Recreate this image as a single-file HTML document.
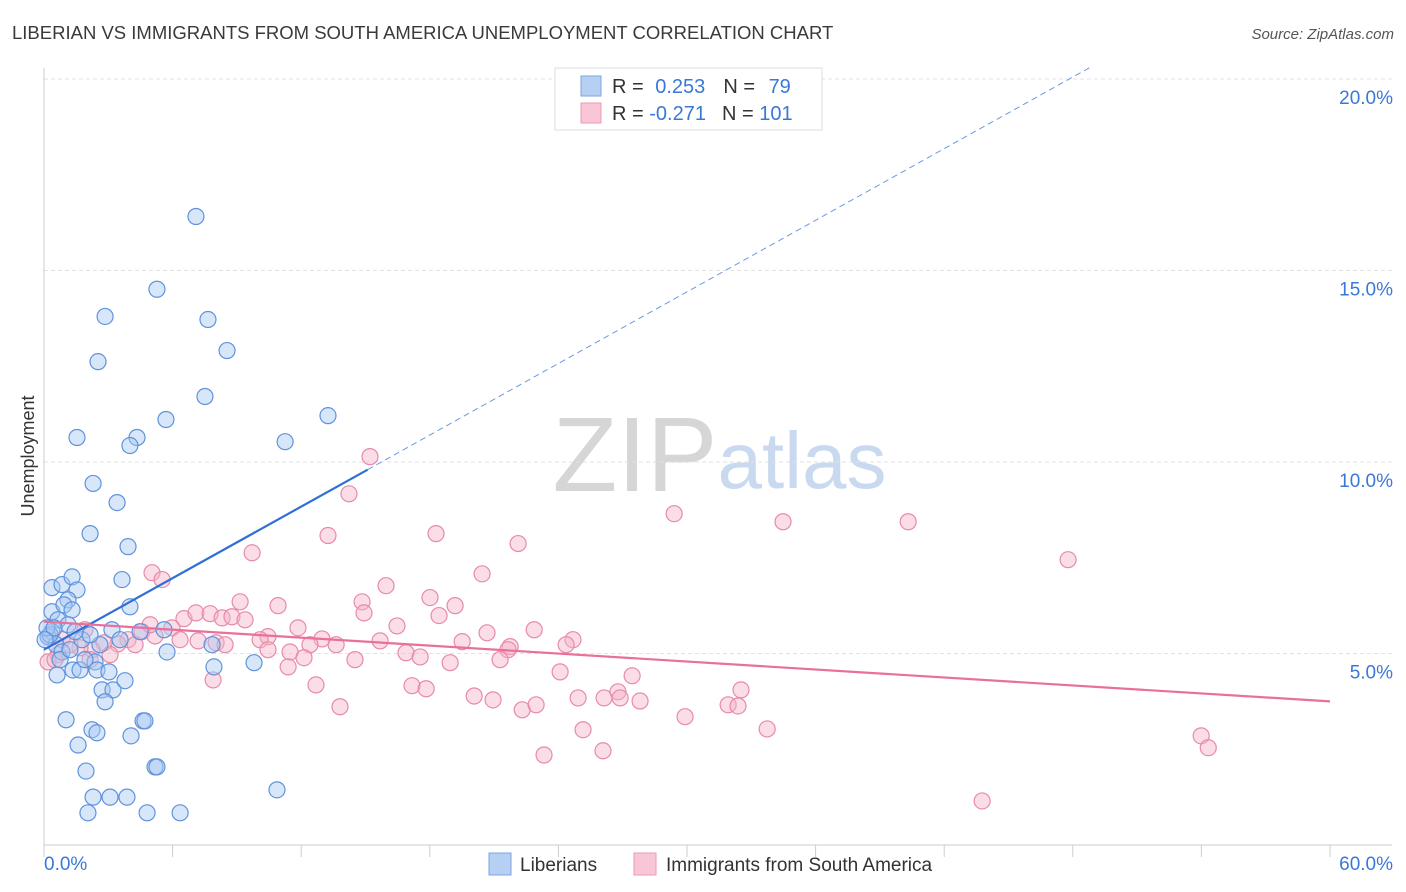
<!DOCTYPE html>
<html><head><meta charset="utf-8">
<style>
body{margin:0;background:#fff;font-family:"Liberation Sans",sans-serif;}
#wrap{position:relative;width:1406px;height:892px;overflow:hidden;}
svg text{font-family:"Liberation Sans",sans-serif;}
</style></head>
<body>
<div id="wrap">
<svg id="chart" width="1406" height="892">
<text x="12" y="39" font-size="18.5" fill="#3a3a3a">LIBERIAN VS IMMIGRANTS FROM SOUTH AMERICA UNEMPLOYMENT CORRELATION CHART</text>
<text x="1394" y="39" font-size="15" fill="#555" font-style="italic" text-anchor="end">Source: ZipAtlas.com</text>
<g>
<text x="635" y="491" font-size="106" fill="#d6d6d6" font-family="Liberation Serif,serif" text-anchor="middle">ZIP</text>
<text x="802" y="488" font-size="80" fill="#c8d9f0" text-anchor="middle">atlas</text>
</g>
<g id="grid"></g>
<g id="axes"></g>
<g id="marks"></g>
<text transform="translate(34,456) rotate(-90)" font-size="18" fill="#333" text-anchor="middle">Unemployment</text>
<g>
<rect x="555" y="68" width="267" height="62" fill="#fff" stroke="#ddd"/>
<rect x="581" y="76" width="20" height="20" fill="#b5d0f3" stroke="#7ea6e0"/>
<rect x="581" y="103" width="20" height="20" fill="#f8c6d6" stroke="#eb9ab5"/>
<text x="612" y="93" font-size="20" fill="#333">R = <tspan fill="#3a78d8" dx="6">0.253</tspan><tspan dx="18">N = </tspan><tspan fill="#3a78d8" dx="8">79</tspan></text>
<text x="612" y="120" font-size="20" fill="#333">R = <tspan fill="#3a78d8" dx="0">-0.271</tspan><tspan dx="16">N = </tspan><tspan fill="#3a78d8" dx="0">101</tspan></text>
</g>
<g>
<rect x="489" y="853" width="22" height="22" fill="#b5d0f3" stroke="#7ea6e0"/>
<text x="520" y="871" font-size="19" fill="#333">Liberians</text>
<rect x="634" y="853" width="22" height="22" fill="#f8c6d6" stroke="#eb9ab5"/>
<text x="666" y="871" font-size="19" fill="#333">Immigrants from South America</text>
</g>
</svg>
</div>
<script>
const yTicks=[5,10,15,20];
const yTickLabels=["5.0%","10.0%","15.0%","20.0%"];
const xTickCount=10;
const xLabels=["0.0%","60.0%"];
const blueX=[7.09,5.27,2.85,7.65,2.52,8.54,7.51,5.69,13.25,1.54,4.34,4.01,11.25,2.29,3.41,2.15,3.92,3.64,0.37,0.84,1.31,1.54,1.12,4.01,0.37,0.93,1.31,0.65,1.12,0.37,0.19,0.56,0.84,1.77,3.17,4.48,5.60,5.74,7.84,0.61,1.35,1.68,2.38,2.47,3.03,7.93,9.80,2.71,3.22,3.78,2.85,1.03,2.24,2.47,4.06,4.62,4.71,1.59,1.96,5.18,5.27,2.29,3.08,3.87,10.87,2.05,4.81,6.35,0.28,0.14,0.47,0.75,1.91,1.21,2.61,2.15,3.55,1.45,0.05];
const blueY=[16.41,14.51,13.80,13.72,12.62,12.91,11.71,11.11,11.21,10.64,10.64,10.43,10.53,9.44,8.94,8.13,7.79,6.93,6.72,6.80,7.00,6.66,6.40,6.22,6.09,6.27,6.14,5.88,5.75,5.57,5.44,5.23,5.04,5.36,5.62,5.57,5.62,5.04,5.23,4.44,4.57,4.57,4.78,4.57,4.52,4.65,4.76,4.05,4.05,4.29,3.74,3.27,3.01,2.93,2.85,3.24,3.24,2.61,1.93,2.04,2.04,1.25,1.25,1.25,1.44,0.84,0.84,0.84,5.49,5.67,5.67,4.84,4.84,5.10,5.23,5.49,5.36,5.57,5.36];
const pinkX=[15.21,14.23,29.40,34.48,40.32,13.25,18.29,22.12,9.71,47.78,5.04,5.51,20.44,15.96,18.01,9.15,14.84,19.18,10.92,14.93,18.43,6.53,7.09,7.75,8.31,8.77,9.38,5.97,4.57,5.18,11.85,16.47,22.87,20.67,24.68,24.36,10.45,10.08,12.97,15.68,19.51,21.75,21.65,13.63,12.41,8.03,7.19,3.92,3.45,2.80,2.24,1.68,0.84,0.65,0.19,0.51,10.45,11.48,16.89,17.55,12.13,14.51,18.95,21.28,24.08,27.44,11.39,7.89,12.69,17.17,17.83,20.07,20.95,24.92,26.13,26.78,26.88,27.81,32.52,31.92,32.38,13.81,22.31,22.96,29.91,33.74,25.15,53.99,54.32,26.08,23.33,43.77,2.15,1.21,4.25,3.08,6.35,8.45,4.95,1.91];
const pinkY=[10.14,9.17,8.65,8.44,8.44,8.08,8.13,7.87,7.63,7.45,7.11,6.93,7.08,6.77,6.46,6.35,6.35,6.25,6.25,6.06,5.99,5.91,6.06,6.04,5.93,5.96,5.88,5.67,5.57,5.46,5.67,5.72,5.62,5.54,5.36,5.23,5.44,5.36,5.38,5.33,5.31,5.18,5.10,5.23,5.23,5.28,5.33,5.36,5.25,5.28,5.10,5.15,5.36,4.97,4.78,4.84,5.10,5.04,5.02,4.91,4.89,4.84,4.76,4.84,4.52,4.42,4.65,4.31,4.18,4.16,4.08,3.89,3.79,3.84,3.84,4.00,3.84,3.76,4.05,3.66,3.63,3.61,3.53,3.66,3.35,3.03,3.01,2.85,2.54,2.46,2.35,1.15,4.84,5.23,5.23,4.97,5.36,5.23,5.75,5.62];
const blueTrend=[[0,5.1],[15.1,9.8],[48.8,20.3]];
const pinkTrend=[[0,5.83],[60,3.75]];

const NS="http://www.w3.org/2000/svg";
function xs(v){return 44+v*(1330-44)/60;}
function ys(v){return 845-v*(845-79)/20;}
function mk(tag,attrs,parent){const e=document.createElementNS(NS,tag);for(const k in attrs)e.setAttribute(k,attrs[k]);parent.appendChild(e);return e;}
const grid=document.getElementById('grid'),axes=document.getElementById('axes'),marks=document.getElementById('marks');
yTicks.forEach((t,i)=>{
  const l=mk('line',{x1:44,x2:1392,y1:ys(t),y2:ys(t),stroke:'#e2e2e2','stroke-dasharray':'4,3'},grid);
  
  
  const tx=mk('text',{x:1393,y:ys(t)+25,'font-size':19,fill:'#3a78d8','text-anchor':'end'},axes);
  tx.textContent=yTickLabels[i];
  
  
});
let ax=mk('line',{x1:44,x2:44,y1:68,y2:845,stroke:'#ccc'},axes);


ax=mk('line',{x1:44,x2:1392,y1:845,y2:845,stroke:'#ccc'},axes);


for(let i=0;i<=xTickCount;i++){
  const v=i*60/xTickCount;
  const t=mk('line',{x1:xs(v),x2:xs(v),y1:845,y2:857,stroke:'#ccc'},axes);
  
  
}
let xl=mk('text',{x:44,y:870,'font-size':19,fill:'#3a78d8'},axes);xl.textContent=xLabels[0];


xl=mk('text',{x:1393,y:870,'font-size':19,fill:'#3a78d8','text-anchor':'end'},axes);xl.textContent=xLabels[1];



function dots(X,Y,fill,stroke,name){
  X.forEach((x,i)=>{
    const c=mk('circle',{cx:xs(x),cy:ys(Y[i]),r:8,fill:fill,'fill-opacity':0.45,stroke:stroke,'stroke-width':1.2},marks);
    
    
  });
}
dots(pinkX,pinkY,'#f4b3c8','#e88aa9','immigrant-point');
dots(blueX,blueY,'#a9c8f2','#5f93dc','liberian-point');
let tl=mk('line',{x1:xs(blueTrend[0][0]),y1:ys(blueTrend[0][1]),x2:xs(blueTrend[1][0]),y2:ys(blueTrend[1][1]),stroke:'#2f6fd6','stroke-width':2.2},marks);


tl=mk('line',{x1:xs(blueTrend[1][0]),y1:ys(blueTrend[1][1]),x2:xs(blueTrend[2][0]),y2:ys(blueTrend[2][1]),stroke:'#6a9ae0','stroke-width':1,'stroke-dasharray':'6,4'},marks);


tl=mk('line',{x1:xs(pinkTrend[0][0]),y1:ys(pinkTrend[0][1]),x2:xs(pinkTrend[1][0]),y2:ys(pinkTrend[1][1]),stroke:'#e8709a','stroke-width':2.2},marks);


</script>
</body></html>
